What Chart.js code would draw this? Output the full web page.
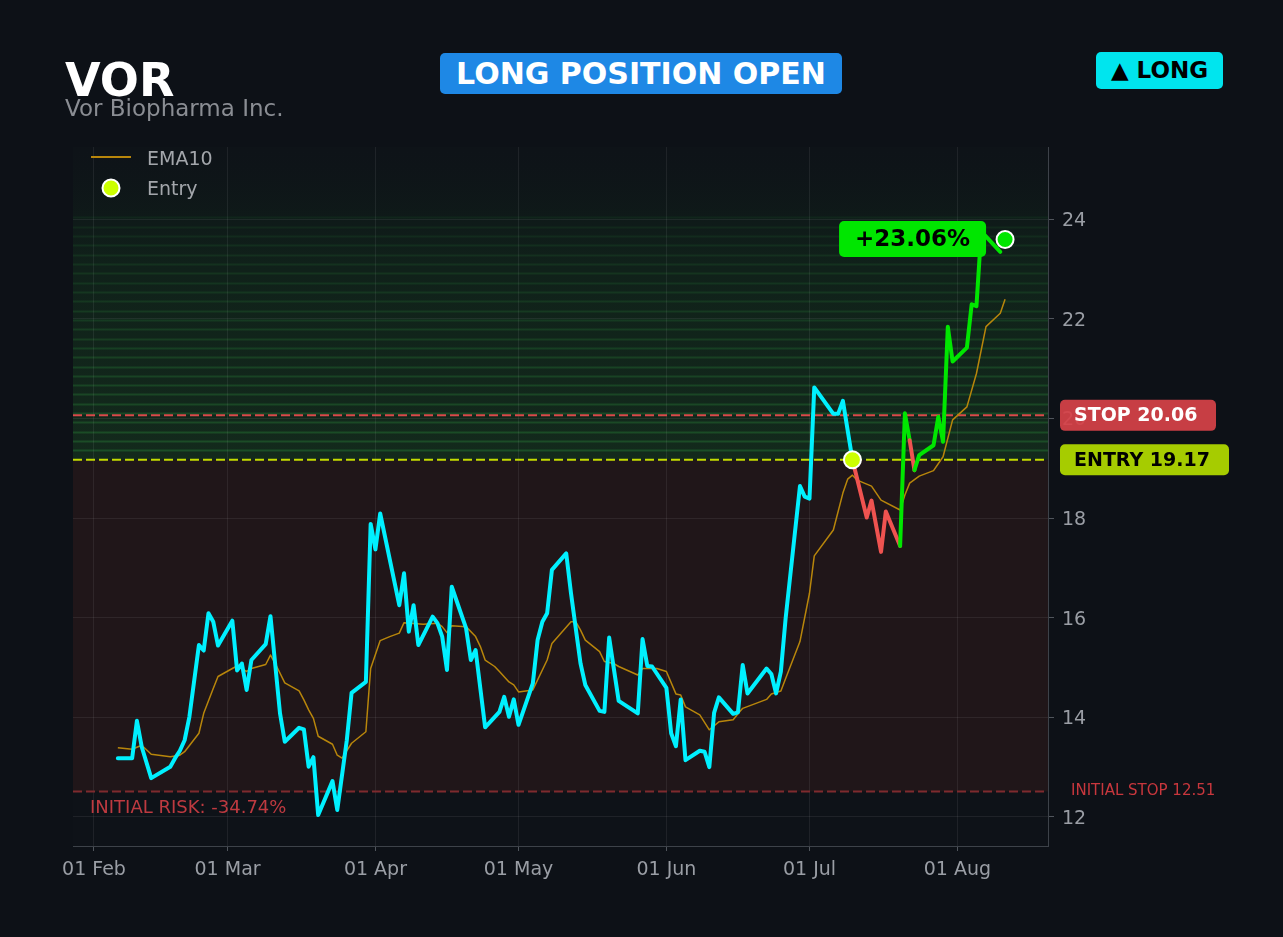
<!DOCTYPE html>
<html>
<head>
<meta charset="utf-8">
<script src="https://cdn.jsdelivr.net/npm/chart.js@4.4.1/dist/chart.umd.min.js"></script>
<style>
html, body { margin: 0; padding: 0; background: #0d1117; width: 1283px; height: 937px; overflow: hidden; font-family: "DejaVu Sans", sans-serif; }
#wrap { position: absolute; left: 0; top: 0; width: 1283px; height: 937px; }
.t { position: absolute; line-height: 1; white-space: nowrap; z-index: 2; }
#ticker { left: 65px; top: 57px; font-size: 46px; font-weight: bold; color: #ffffff; }
#name { left: 65px; top: 97px; font-size: 23px; color: #8a8d93; }
.badge { position: absolute; z-index: 2; display: flex; align-items: center; justify-content: center; font-weight: bold; border-radius: 5px; line-height: 1; white-space: nowrap; }
#status { left: 440px; top: 53px; width: 402px; height: 41px; background: #1e88e5; color: #ffffff; font-size: 30px; }
#side { left: 1096px; top: 52px; width: 127px; height: 37px; background: #00e5ee; color: #000000; font-size: 23px; }
</style>
</head>
<body>
<div id="wrap"><canvas id="chart"></canvas></div>
<div class="t" id="ticker">VOR</div>
<div class="t" id="name">Vor Biopharma Inc.</div>
<div class="badge" id="status">LONG POSITION OPEN</div>
<div class="badge" id="side">▲ LONG</div>
<script>
// price closes
const priceDates = [
  '2025-02-06','2025-02-09','2025-02-10','2025-02-11','2025-02-13','2025-02-17','2025-02-18','2025-02-19','2025-02-20','2025-02-21',
  '2025-02-23','2025-02-24','2025-02-25','2025-02-26','2025-02-27','2025-03-02','2025-03-03','2025-03-04','2025-03-05','2025-03-06',
  '2025-03-09','2025-03-10','2025-03-12','2025-03-13','2025-03-16','2025-03-17','2025-03-18','2025-03-19','2025-03-20','2025-03-23',
  '2025-03-24','2025-03-26','2025-03-27','2025-03-30','2025-03-31','2025-04-01','2025-04-02','2025-04-06','2025-04-07','2025-04-08',
  '2025-04-09','2025-04-10','2025-04-13','2025-04-14','2025-04-15','2025-04-16','2025-04-17','2025-04-20','2025-04-21','2025-04-22',
  '2025-04-24','2025-04-27','2025-04-28','2025-04-29','2025-04-30','2025-05-01','2025-05-04','2025-05-05','2025-05-06','2025-05-07',
  '2025-05-08','2025-05-11','2025-05-12','2025-05-14','2025-05-15','2025-05-18','2025-05-19','2025-05-20','2025-05-22','2025-05-26',
  '2025-05-27','2025-05-28','2025-05-29','2025-06-01','2025-06-02','2025-06-03','2025-06-04','2025-06-05','2025-06-08','2025-06-09',
  '2025-06-10','2025-06-11','2025-06-12','2025-06-15','2025-06-16','2025-06-17','2025-06-18','2025-06-22','2025-06-23','2025-06-24',
  '2025-06-25','2025-06-26','2025-06-29','2025-06-30','2025-07-01','2025-07-02','2025-07-06','2025-07-07','2025-07-08','2025-07-10',
  '2025-07-13','2025-07-14','2025-07-16','2025-07-17','2025-07-20','2025-07-21','2025-07-22','2025-07-23','2025-07-24','2025-07-27',
  '2025-07-28','2025-07-29','2025-07-30','2025-07-31','2025-08-03','2025-08-04','2025-08-05','2025-08-06','2025-08-10'
];
const priceValues = [
  13.18, 13.18, 13.93, 13.41, 12.78, 13.01, 13.18, 13.33, 13.54, 14.01,
  15.45, 15.34, 16.09, 15.92, 15.44, 15.94, 14.94, 15.08, 14.55, 15.15,
  15.47, 16.03, 14.08, 13.51, 13.79, 13.76, 13.01, 13.20, 12.04, 12.72,
  12.14, 13.54, 14.49, 14.71, 17.88, 17.37, 18.09, 16.25, 16.89, 15.72,
  16.25, 15.45, 16.02, 15.89, 15.62, 14.95, 16.62, 15.79, 15.15, 15.35,
  13.80, 14.11, 14.41, 14.01, 14.36, 13.85, 14.68, 15.55, 15.92, 16.09,
  16.96, 17.29, 16.49, 15.08, 14.65, 14.13, 14.11, 15.60, 14.33, 14.08,
  15.57, 15.03, 15.02, 14.59, 13.68, 13.42, 14.36, 13.14, 13.33, 13.31,
  13.00, 14.09, 14.40, 14.07, 14.10, 15.05, 14.48, 14.98, 14.87, 14.48,
  14.92, 15.99, 18.64, 18.43, 18.39, 20.62, 20.09, 20.09, 20.35, 19.17,
  18.01, 18.35, 17.32, 18.13, 17.44, 20.10, 19.56, 18.96, 19.26, 19.46,
  20.03, 19.53, 21.84, 21.14, 21.42, 22.29, 22.25, 23.75, 23.34
];

// EMA10
const emaDates = [
  '2025-02-06','2025-02-09','2025-02-11','2025-02-13','2025-02-17','2025-02-19','2025-02-20','2025-02-23','2025-02-24','2025-02-26',
  '2025-02-27','2025-03-02','2025-03-03','2025-03-05','2025-03-06','2025-03-09','2025-03-10','2025-03-11','2025-03-13','2025-03-16',
  '2025-03-17','2025-03-18','2025-03-19','2025-03-20','2025-03-23','2025-03-24','2025-03-25','2025-03-27','2025-03-30','2025-03-31',
  '2025-04-02','2025-04-04','2025-04-06','2025-04-07','2025-04-11','2025-04-14','2025-04-15','2025-04-16','2025-04-17','2025-04-20',
  '2025-04-22','2025-04-23','2025-04-24','2025-04-26','2025-04-27','2025-04-29','2025-04-30','2025-05-01','2025-05-04','2025-05-07',
  '2025-05-08','2025-05-12','2025-05-13','2025-05-14','2025-05-15','2025-05-18','2025-05-19','2025-05-21','2025-05-22','2025-05-26',
  '2025-05-27','2025-05-30','2025-06-01','2025-06-03','2025-06-04','2025-06-05','2025-06-08','2025-06-10','2025-06-12','2025-06-15',
  '2025-06-16','2025-06-17','2025-06-22','2025-06-23','2025-06-25','2025-06-26','2025-06-29','2025-07-01','2025-07-02','2025-07-06',
  '2025-07-08','2025-07-09','2025-07-10','2025-07-11','2025-07-14','2025-07-16','2025-07-20','2025-07-21','2025-07-22','2025-07-24',
  '2025-07-27','2025-07-29','2025-07-31','2025-08-03','2025-08-05','2025-08-07','2025-08-10','2025-08-11'
];
const emaValues = [
  13.39, 13.36, 13.44, 13.26, 13.21, 13.24, 13.31, 13.68, 14.08, 14.58,
  14.82, 14.98, 15.03, 14.92, 14.98, 15.06, 15.25, 15.08, 14.69, 14.53,
  14.35, 14.15, 13.98, 13.62, 13.46, 13.24, 13.18, 13.48, 13.71, 14.98,
  15.54, 15.62, 15.69, 15.90, 15.87, 15.89, 15.82, 15.70, 15.84, 15.82,
  15.62, 15.42, 15.15, 15.02, 14.92, 14.71, 14.65, 14.51, 14.55, 15.15,
  15.48, 15.92, 15.92, 15.75, 15.55, 15.32, 15.12, 15.08, 15.02, 14.85,
  14.98, 14.98, 14.92, 14.47, 14.45, 14.21, 14.05, 13.75, 13.91, 13.95,
  14.07, 14.18, 14.36, 14.47, 14.53, 14.78, 15.52, 16.49, 17.24, 17.76,
  18.50, 18.78, 18.86, 18.76, 18.64, 18.36, 18.16, 18.46, 18.70, 18.84,
  18.95, 19.23, 19.97, 20.23, 20.90, 21.84, 22.11, 22.39
];

const entryDate = '2025-07-10';
const entryPrice = 19.17;
const stopPrice = 20.06;
const initialStop = 12.51;
const lastDate = '2025-08-11';
const lastPrice = 23.59;

const monthLabels = ['01 Feb', '01 Mar', '01 Apr', '01 May', '01 Jun', '01 Jul', '01 Aug'];
const monthDates = ['2025-02-01', '2025-03-01', '2025-04-01', '2025-05-01', '2025-06-01', '2025-07-01', '2025-08-01'];
const priceTicks = [12, 14, 16, 18, 20, 22, 24];

// days since 1 Feb, used as the x value
const dayNum = s => (Date.parse(s + 'T00:00:00Z') - Date.parse('2025-02-01T00:00:00Z')) / 86400000;
const monthDays = monthDates.map(dayNum);

const CYAN = '#00f0ff', RED = '#ef5350', GREEN = '#00e600', EMA = '#b8860b';
const PAGE = '#0d1117';
const entryIdx = priceDates.indexOf(entryDate);
const pct = (lastPrice / entryPrice - 1) * 100;
const risk = (initialStop / entryPrice - 1) * 100;

function hline(ctx, a, yy, color, dash) {
  ctx.save();
  ctx.strokeStyle = color;
  ctx.lineWidth = 2;
  ctx.setLineDash(dash);
  ctx.beginPath();
  ctx.moveTo(a.left, yy);
  ctx.lineTo(a.right, yy);
  ctx.stroke();
  ctx.restore();
}

function badge(ctx, x, yc, w, h, fill, text, color, font, padX) {
  ctx.save();
  ctx.fillStyle = fill;
  ctx.beginPath();
  ctx.roundRect(x, yc - h / 2, w, h, 5);
  ctx.fill();
  ctx.font = font;
  ctx.fillStyle = color;
  ctx.textBaseline = 'middle';
  if (padX == null) {
    ctx.textAlign = 'center';
    ctx.fillText(text, x + w / 2, yc + 1);
  } else {
    ctx.textAlign = 'left';
    ctx.fillText(text, x + padX, yc + 1);
  }
  ctx.restore();
}

const zones = {
  id: 'zones',
  beforeDraw(chart) {
    const { ctx, chartArea: a, scales: { y } } = chart;
    const yEntry = y.getPixelForValue(entryPrice);
    const yInit = y.getPixelForValue(initialStop);
    ctx.save();
    ctx.fillStyle = PAGE;
    ctx.fillRect(0, 0, chart.width, chart.height);
    ctx.fillStyle = '#0e1218';
    ctx.fillRect(a.left, a.top, a.width, a.height);
    // risk zone
    ctx.fillStyle = '#201619';
    ctx.fillRect(a.left, yEntry, a.width, yInit - yEntry);
    // profit zone
    const g = ctx.createLinearGradient(0, a.top, 0, yEntry);
    g.addColorStop(0, 'rgba(14,22,24,0.2)');
    g.addColorStop(0.35, 'rgba(16,34,26,0.9)');
    g.addColorStop(1, 'rgba(19,42,28,1)');
    ctx.fillStyle = g;
    ctx.fillRect(a.left, a.top, a.width, yEntry - a.top);
    const n = 26;
    for (let k = 1; k <= n; k++) {
      const yy = Math.round(y.getPixelForValue(entryPrice + k * 0.187)) + 0.5;
      ctx.strokeStyle = 'rgba(36,110,50,' + (0.55 - 0.4 * k / n).toFixed(3) + ')';
      ctx.lineWidth = 2;
      ctx.beginPath();
      ctx.moveTo(a.left, yy);
      ctx.lineTo(a.right, yy);
      ctx.stroke();
    }
    ctx.restore();
  },
  beforeDatasetsDraw(chart) {
    const { ctx, chartArea: a, scales: { x, y } } = chart;
    hline(ctx, a, y.getPixelForValue(initialStop), '#7e2a2e', [9, 4]);
    hline(ctx, a, y.getPixelForValue(stopPrice), '#d94a4a', [9, 4]);
    hline(ctx, a, y.getPixelForValue(entryPrice), '#c4dc00', [9, 4]);
    const xl = x.getPixelForValue(dayNum(lastDate));
    const yl = y.getPixelForValue(lastPrice);
    badge(ctx, xl - 166, yl - 0.5, 147, 36, GREEN, '+' + pct.toFixed(2) + '%', '#000', 'bold 23px "DejaVu Sans"');
  },
  afterDraw(chart) {
    const { ctx, chartArea: a, scales: { y } } = chart;
    badge(ctx, 1060, y.getPixelForValue(stopPrice), 156, 31, 'rgba(214,66,72,0.93)', 'STOP ' + stopPrice.toFixed(2), '#fff', 'bold 19px "DejaVu Sans"', 14);
    badge(ctx, 1060, y.getPixelForValue(entryPrice), 169, 31, '#a6cc00', 'ENTRY ' + entryPrice.toFixed(2), '#000', 'bold 19px "DejaVu Sans"', 14);
    ctx.save();
    ctx.textBaseline = 'middle';
    ctx.textAlign = 'left';
    ctx.fillStyle = '#c8373d';
    ctx.font = '15px "DejaVu Sans"';
    ctx.fillText('INITIAL STOP ' + initialStop.toFixed(2), 1071, y.getPixelForValue(initialStop));
    ctx.fillStyle = '#be3a40';
    ctx.font = '18px "DejaVu Sans"';
    ctx.fillText('INITIAL RISK: ' + risk.toFixed(2) + '%', 90, y.getPixelForValue(initialStop) + 17);
    // legend
    ctx.strokeStyle = EMA;
    ctx.lineWidth = 2;
    ctx.beginPath();
    ctx.moveTo(91, 157);
    ctx.lineTo(131, 157);
    ctx.stroke();
    ctx.beginPath();
    ctx.arc(111, 188, 8.5, 0, Math.PI * 2);
    ctx.fillStyle = '#ccff00';
    ctx.fill();
    ctx.strokeStyle = '#ffffff';
    ctx.lineWidth = 2;
    ctx.stroke();
    ctx.fillStyle = '#a3a6ab';
    ctx.font = '19px "DejaVu Sans"';
    ctx.textBaseline = 'alphabetic';
    ctx.fillText('EMA10', 147, 165);
    ctx.fillText('Entry', 147, 195);
    ctx.restore();
  }
};

Chart.defaults.font.family = '"DejaVu Sans"';

new Chart(document.getElementById('chart'), {
  type: 'line',
  data: {
    datasets: [
      {
        label: 'Now',
        type: 'scatter',
        data: [{ x: dayNum(lastDate), y: lastPrice }],
        pointRadius: 8.5,
        backgroundColor: GREEN,
        borderColor: '#ffffff',
        borderWidth: 2,
        order: 0
      },
      {
        label: 'Entry',
        type: 'scatter',
        data: [{ x: dayNum(entryDate), y: entryPrice }],
        pointRadius: 8.5,
        backgroundColor: '#ccff00',
        borderColor: '#ffffff',
        borderWidth: 2,
        order: 0
      },
      {
        label: 'Price',
        data: priceDates.map((d, i) => ({ x: dayNum(d), y: priceValues[i] })),
        borderColor: CYAN,
        borderWidth: 4,
        borderJoinStyle: 'round',
        borderCapStyle: 'round',
        pointRadius: 0,
        tension: 0,
        segment: {
          borderColor: c => c.p0DataIndex < entryIdx ? CYAN : (c.p1.parsed.y < entryPrice ? RED : GREEN)
        },
        order: 1
      },
      {
        label: 'EMA10',
        data: emaDates.map((d, i) => ({ x: dayNum(d), y: emaValues[i] })),
        borderColor: EMA,
        borderWidth: 1.5,
        borderJoinStyle: 'round',
        pointRadius: 0,
        tension: 0,
        order: 2
      }
    ]
  },
  options: {
    responsive: true,
    maintainAspectRatio: false,
    animation: false,
    layout: { padding: { left: 73, top: 147, right: 0, bottom: 0 } },
    plugins: { legend: { display: false }, tooltip: { enabled: false } },
    scales: {
      x: {
        type: 'linear',
        min: -4.4,
        max: 200,
        afterBuildTicks: s => { s.ticks = monthDays.map(v => ({ value: v })); },
        afterFit: s => { s.height = 91; },
        ticks: {
          autoSkip: false,
          maxRotation: 0,
          color: '#9a9ea5',
          font: { size: 19 },
          padding: 8,
          callback: v => monthLabels[monthDays.indexOf(v)]
        },
        grid: { color: 'rgba(255,255,255,0.07)', tickColor: '#50555c', tickLength: 5 },
        border: { color: '#3d4249' }
      },
      y: {
        position: 'right',
        min: 11.418,
        max: 25.445,
        afterBuildTicks: s => { s.ticks = priceTicks.map(v => ({ value: v })); },
        afterFit: s => { s.width = 235; },
        ticks: { color: '#9a9ea5', font: { size: 19 }, padding: 8, labelOffset: 2 },
        grid: { color: 'rgba(255,255,255,0.07)', tickColor: '#50555c', tickLength: 6 },
        border: { color: '#3d4249' }
      }
    }
  },
  plugins: [zones]
});
</script>
</body>
</html>
